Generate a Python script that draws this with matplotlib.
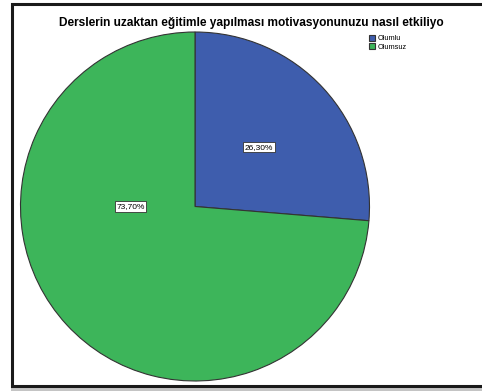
import matplotlib.pyplot as plt
from matplotlib.patches import Rectangle

plt.rcParams['font.family'] = ['Liberation Sans', 'DejaVu Sans']

title = "Derslerin uzaktan eğitimle yapılması motivasyonunuzu nasıl etkiliyo"
categories = ["Olumlu", "Olumsuz"]
values = [26.30, 73.70]
colors = ['#3E5DAD', '#3DB55A']

W, H = 482, 392
fig = plt.figure(figsize=(W / 100, H / 100), dpi=100)

# frame with shadow
fig.patches.append(Rectangle((11 / W, 1 - 391 / H), 475 / W, 387 / H, transform=fig.transFigure,
                             facecolor='#c4c4c4', edgecolor='none', zorder=0))
fig.patches.append(Rectangle((11.5 / W, 1 - 386 / H), 480 / W, 382.5 / H, transform=fig.transFigure,
                             facecolor='white', edgecolor='#1a1a1a', lw=2.2, zorder=1))

cx, cy, r = 195, 206.5, 174.5
ax = fig.add_axes([(cx - r) / W, 1 - (cy + r) / H, 2 * r / W, 2 * r / H])
ax.set_zorder(2)
wedges, _ = ax.pie(values, colors=colors, startangle=90, counterclock=False,
                   wedgeprops=dict(edgecolor='#333333', linewidth=0.8))
ax.set_xlim(-1, 1)
ax.set_ylim(-1, 1)
ax.set_aspect('equal')
ax.axis('off')

label_pos = [(0.365, 0.34), (-0.37, 0.0)]
for v, (x, y) in zip(values, label_pos):
    ax.text(x, y, f"{v:.2f}%".replace('.', ','), ha='center', va='center', fontsize=6,
            bbox=dict(boxstyle='square,pad=0.2', facecolor='white', edgecolor='#333333', lw=0.6))

fig.text(251 / W, 1 - 23 / H, title, ha='center', va='center', fontsize=8.6, fontweight='bold')

leg = fig.legend(wedges, categories, loc='upper left', bbox_to_anchor=(365 / W, 1 - 31 / H),
                 frameon=False, fontsize=5.3, handlelength=0.9, handleheight=0.9,
                 handletextpad=0.25, borderpad=0, labelspacing=0.1)

fig.savefig('out.png', dpi=100)
